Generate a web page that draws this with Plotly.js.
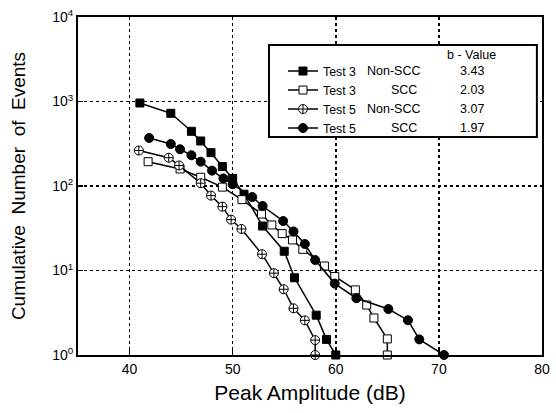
<!DOCTYPE html>
<html><head><meta charset="utf-8">
<script src="https://cdn.plot.ly/plotly-3.0.1.min.js"></script>
<style>html,body{margin:0;padding:0;background:#fff}#chart{width:556px;height:413px}</style>
</head><body><div id="chart"></div>
<script>
// Series data (Peak Amplitude dB, Cumulative Number of Events)
const test3NonSccX = [41.0, 44.0, 46.0, 46.9, 47.9, 49.0, 50.0, 51.1, 52.9, 55.0, 56.0, 58.1, 59.1, 60.0];
const test3NonSccY = [960, 725, 444, 341, 248, 170, 123, 80, 33.6, 16.9, 8.2, 2.96, 1.53, 1];

const test3SccX = [41.8, 44.9, 46.9, 49.0, 50.9, 52.8, 53.8, 54.8, 55.8, 56.8, 58.9, 59.9, 61.9, 63.0, 63.7, 65.0, 65.0];
const test3SccY = [194, 159, 127, 97, 69, 46.6, 34.6, 27.3, 23, 17.8, 11.3, 8.5, 5.9, 3.9, 2.74, 1.55, 1];

const test5NonSccX = [40.9, 43.8, 44.8, 46.9, 47.9, 49.0, 49.85, 50.85, 52.85, 54.0, 54.95, 55.9, 57.0, 58.0, 58.0];
const test5NonSccY = [263, 216, 175, 108, 77, 57, 40, 31, 15.6, 9.3, 6.0, 3.57, 2.57, 1.5, 1];

const test5SccX = [41.9, 44.0, 44.9, 46.0, 46.9, 48.0, 49.1, 50.0, 51.9, 52.9, 54.9, 55.9, 57.0, 58.0, 59.9, 62.0, 65.1, 67.0, 68.1, 70.5];
const test5SccY = [370, 314, 272, 231, 194, 152, 123, 105, 74, 58, 38.5, 29, 20.6, 13.3, 7.0, 4.7, 3.5, 2.58, 1.53, 1];

// Legend table
const seriesNames = ['Test 3', 'Test 3', 'Test 5', 'Test 5'];
const seriesConditions = ['Non-SCC', 'SCC', 'Non-SCC', 'SCC'];
const bValues = ['3.43', '2.03', '3.07', '1.97'];
const bHeader = 'b - Value';

// Axis ticks
const xTickVals = [40, 50, 60, 70, 80];
const xTickText = ['40', '50', '60', '70', '80'];
const yTickVals = [1, 10, 100, 1000, 10000];
const yTickText = ['10<sup>0</sup>', '10<sup>1</sup>', '10<sup>2</sup>', '10<sup>3</sup>', '10<sup>4</sup>'];

const FONT = 'Liberation Sans, Arial, Helvetica, sans-serif';
const lineStyle = {color: '#000', width: 1.5};

const markerStyles = [
  {symbol: 'square', size: 8, color: '#000', line: {color: '#000', width: 1}},
  {symbol: 'square', size: 8, color: '#fff', line: {color: '#000', width: 1}},
  {symbol: 'circle-cross', size: 9, color: '#fff', line: {color: '#000', width: 1}},
  {symbol: 'circle', size: 9, color: '#000', line: {color: '#000', width: 1}}
];
const xs = [test3NonSccX, test3SccX, test5NonSccX, test5SccX];
const ys = [test3NonSccY, test3SccY, test5NonSccY, test5SccY];

const traces = xs.map((x, i) => ({
  type: 'scatter', mode: 'lines+markers',
  x: x, y: ys[i], name: seriesNames[i],
  line: lineStyle, marker: markerStyles[i], cliponaxis: false
}));

const rowY = [0.8402, 0.7840, 0.7278, 0.6716];
const annotations = [];
annotations.push({xref: 'paper', yref: 'paper', x: 0.849, y: 0.8876, text: bHeader, showarrow: false,
  xanchor: 'center', yanchor: 'middle', font: {family: FONT, size: 12.5, color: '#000'}});
seriesConditions.forEach((c, i) => {
  const isNon = c.startsWith('Non');
  annotations.push({xref: 'paper', yref: 'paper', x: isNon ? 0.6185 : 0.7349, y: rowY[i], text: c,
    showarrow: false, xanchor: isNon ? 'left' : 'right', yanchor: 'middle',
    font: {family: FONT, size: 12.5, color: '#000'}});
  annotations.push({xref: 'paper', yref: 'paper', x: 0.849, y: rowY[i], text: bValues[i],
    showarrow: false, xanchor: 'center', yanchor: 'middle',
    font: {family: FONT, size: 12.5, color: '#000'}});
});

const layout = {
  width: 556, height: 413,
  margin: {l: 78, r: 14, t: 17, b: 58},
  paper_bgcolor: '#fff', plot_bgcolor: '#fff',
  font: {family: FONT, size: 14, color: '#000'},
  showlegend: true,
  legend: {x: 0.4418, y: 0.883, xanchor: 'left', yanchor: 'top', bgcolor: 'rgba(0,0,0,0)',
    borderwidth: 0, font: {family: FONT, size: 12.3, color: '#000'}, traceorder: 'normal'},
  xaxis: {
    range: [35, 80], tickvals: xTickVals, ticktext: xTickText,
    showline: true, mirror: true, linecolor: '#000', linewidth: 2,
    ticks: 'inside', ticklen: 5, tickwidth: 1.5, tickcolor: '#000',
    showgrid: true, gridcolor: '#000', gridwidth: 1.5, griddash: 'dot', zeroline: false,
    tickfont: {family: FONT, size: 14, color: '#000'},
    title: {text: 'Peak Amplitude (dB)', font: {family: FONT, size: 21, color: '#000'}, standoff: 10}
  },
  yaxis: {
    type: 'log', range: [0, 4], tickvals: yTickVals, ticktext: yTickText,
    showline: true, mirror: true, linecolor: '#000', linewidth: 2,
    ticks: 'inside', ticklen: 5, tickwidth: 1.5, tickcolor: '#000',
    showgrid: true, gridcolor: '#000', gridwidth: 1.5, griddash: 'dot', zeroline: false,
    tickfont: {family: FONT, size: 14, color: '#000'},
    title: {text: 'Cumulative  Number  of  Events', font: {family: FONT, size: 19, color: '#000'}, standoff: 22}
  },
  shapes: [{type: 'rect', xref: 'paper', yref: 'paper', x0: 0.4116, x1: 0.989, y0: 0.645, y1: 0.917,
    line: {color: '#000', width: 2}, fillcolor: '#fff', layer: 'above'}],
  annotations: annotations
};

Plotly.newPlot('chart', traces, layout, {displayModeBar: false, staticPlot: true});
</script>
</body></html>
